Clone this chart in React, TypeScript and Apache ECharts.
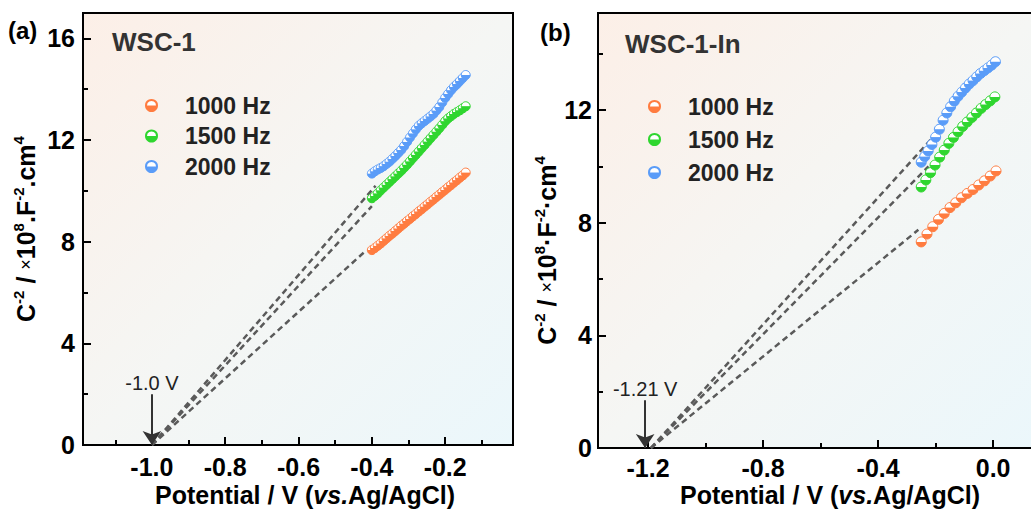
import React, { useEffect, useRef } from "react";
import * as echarts from "echarts";

const FONT = "'Liberation Sans', Arial, Helvetica, sans-serif";

// ---------- shared ----------
const seriesNames = ["1000 Hz", "1500 Hz", "2000 Hz"];
const seriesColors = ["#ff7c40", "#2fd62f", "#5a9cf8"];

// ---------- panel (a) WSC-1 ----------
const potentialA = [
  -0.4, -0.392, -0.384, -0.376, -0.368, -0.36, -0.352, -0.344, -0.336, -0.328, -0.32,
  -0.312, -0.304, -0.296, -0.288, -0.28, -0.272, -0.264, -0.256, -0.248, -0.24, -0.232,
  -0.224, -0.216, -0.208, -0.2, -0.192, -0.184, -0.176, -0.168, -0.16, -0.152, -0.144,
];
const wsc1_1000 = [
  7.67, 7.75, 7.84, 7.93, 8.03, 8.13, 8.23, 8.32, 8.42, 8.52, 8.62, 8.71, 8.81, 8.9,
  9.0, 9.09, 9.19, 9.28, 9.38, 9.47, 9.57, 9.66, 9.76, 9.85, 9.95, 10.04, 10.14, 10.23,
  10.33, 10.42, 10.52, 10.61, 10.72,
];
const wsc1_1500 = [
  9.71, 9.8, 9.9, 10.02, 10.13, 10.24, 10.35, 10.46, 10.57, 10.68, 10.79, 10.91, 11.03,
  11.16, 11.29, 11.42, 11.55, 11.68, 11.81, 11.94, 12.07, 12.2, 12.33, 12.46, 12.6,
  12.74, 12.85, 12.94, 13.03, 13.1, 13.17, 13.25, 13.33,
];
const wsc1_2000 = [
  10.68, 10.77, 10.84, 10.9, 10.97, 11.06, 11.15, 11.26, 11.37, 11.49, 11.61, 11.76,
  11.93, 12.1, 12.26, 12.42, 12.56, 12.66, 12.75, 12.84, 12.93, 13.03, 13.16, 13.3,
  13.48, 13.66, 13.81, 13.96, 14.09, 14.2, 14.32, 14.44, 14.56,
];
// Mott-Schottky extrapolation lines (a)
const fitA1000 = [[-1.0, 0], [-0.42, 7.6]];
const fitA1500 = [[-1.0, 0], [-0.4, 9.4]];
const fitA2000 = [[-1.0, 0], [-0.39, 10.2]];
const flatbandA = -1.0;
const flatbandLabelA = "-1.0 V";

// ---------- panel (b) WSC-1-In ----------
const potentialB1000 = [-0.25, -0.23, -0.21, -0.19, -0.17, -0.15, -0.13, -0.11, -0.09, -0.07, -0.05, -0.03, -0.01, 0.01];
const wscIn_1000 = [7.32, 7.6, 7.86, 8.12, 8.33, 8.54, 8.71, 8.89, 9.04, 9.18, 9.34, 9.49, 9.66, 9.84];
const potentialB1500 = [
  -0.25, -0.234, -0.218, -0.202, -0.186, -0.17, -0.154, -0.138, -0.122, -0.106, -0.09,
  -0.074, -0.058, -0.042, -0.026, -0.01, 0.006,
];
const wscIn_1500 = [
  9.27, 9.52, 9.78, 10.05, 10.33, 10.58, 10.82, 11.03, 11.23, 11.42, 11.58, 11.74, 11.9,
  12.06, 12.2, 12.33, 12.47,
];
const potentialB2000 = [
  -0.25, -0.238, -0.226, -0.213, -0.2, -0.187, -0.174, -0.161, -0.148, -0.135, -0.122,
  -0.109, -0.096, -0.083, -0.07, -0.057, -0.044, -0.031, -0.018, -0.005, 0.008,
];
const wscIn_2000 = [
  10.15, 10.35, 10.55, 10.78, 11.04, 11.32, 11.64, 11.9, 12.12, 12.32, 12.49, 12.64,
  12.79, 12.93, 13.05, 13.18, 13.3, 13.4, 13.5, 13.6, 13.72,
];
const fitB1000 = [[-1.19, 0], [-0.26, 7.75]];
const fitB1500 = [[-1.19, 0], [-0.225, 10.0]];
const fitB2000 = [[-1.19, 0], [-0.195, 11.2]];
const flatbandB = -1.21;
const flatbandLabelB = "-1.21 V";

// ---------- ticks ----------
const xTicksA = [-1.0, -0.8, -0.6, -0.4, -0.2];
const xMinorA = [-1.1, -0.9, -0.7, -0.5, -0.3, -0.1];
const xTicksB = [-1.2, -0.8, -0.4, 0.0];
const xMinorB = [-1.0, -0.6, -0.2];

const zip = (xs: number[], ys: number[]) => xs.map((x, i) => [x, ys[i]]);

const markerFill = (c: string) =>
  new echarts.graphic.LinearGradient(0, 0, 0, 1, [
    { offset: 0, color: "#ffffff" },
    { offset: 0.46, color: "#ffffff" },
    { offset: 0.54, color: c },
    { offset: 1, color: c },
  ]);

const plotBg = () =>
  new echarts.graphic.LinearGradient(0, 0, 1, 1, [
    { offset: 0, color: "#fcefe7" },
    { offset: 0.5, color: "#f5f6f4" },
    { offset: 1, color: "#ebf7fb" },
  ]);

const tickLabel = { fontSize: 25, fontWeight: "bold", color: "#000", fontFamily: FONT };

const yRich = {
  b: { fontSize: 25, fontWeight: "bold", color: "#000", fontFamily: FONT, lineHeight: 30 },
  s: { fontSize: 15, fontWeight: "bold", color: "#000", fontFamily: FONT, lineHeight: 15, verticalAlign: "top" },
  x: { fontSize: 18, fontWeight: "normal", color: "#000", fontFamily: FONT, lineHeight: 30 },
};
const xRich = {
  b: { fontSize: 25, fontWeight: "bold", color: "#000", fontFamily: FONT, lineHeight: 22 },
  i: { fontSize: 25, fontWeight: "bold", fontStyle: "italic", color: "#000", fontFamily: FONT, lineHeight: 22 },
};

const xMain = (gi: number, min: number, max: number, ticks: number[], namePad: number, gap: number, margin: number) => ({
  gridIndex: gi,
  type: "value",
  position: "bottom",
  min,
  max,
  axisLine: { show: true, onZero: false, lineStyle: { color: "#000", width: 2 } },
  axisTick: { show: true, inside: true, length: 8, customValues: ticks, lineStyle: { color: "#000", width: 2 } },
  axisLabel: { ...tickLabel, lineHeight: 20, margin, customValues: ticks, formatter: (v: number) => v.toFixed(1) },
  splitLine: { show: false },
  name: "{b|Potential / V (}{i|vs.}{b|Ag/AgCl)}",
  nameLocation: "middle",
  nameGap: gap,
  nameMoveOverlap: false,
  nameTextStyle: { rich: xRich, lineHeight: 22, padding: [0, 0, 0, namePad] },
});
const xMinor = (gi: number, min: number, max: number, ticks: number[]) => ({
  gridIndex: gi,
  type: "value",
  position: "bottom",
  min,
  max,
  axisLine: { show: false, onZero: false },
  axisTick: { show: true, inside: true, length: 5, customValues: ticks, lineStyle: { color: "#000", width: 2 } },
  axisLabel: { show: false },
  splitLine: { show: false },
});
const yMain = (gi: number, max: number, name: string, gap: number, pad: number[], margin: number) => ({
  gridIndex: gi,
  type: "value",
  position: "left",
  min: 0,
  max,
  interval: 4,
  axisLine: { show: true, onZero: false, lineStyle: { color: "#000", width: 2 } },
  axisTick: { show: true, inside: true, length: 8, lineStyle: { color: "#000", width: 2 } },
  minorTick: { show: true, splitNumber: 2, length: 5, lineStyle: { color: "#000", width: 2 } },
  axisLabel: { ...tickLabel, margin, showMaxLabel: false },
  splitLine: { show: false },
  name,
  nameLocation: "middle",
  nameRotate: 90,
  nameGap: gap,
  nameMoveOverlap: false,
  nameTextStyle: { rich: yRich, padding: pad },
});

const scatter = (name: string, color: string, xi: number, yi: number, data: number[][], size: number) => ({
  type: "scatter",
  name,
  xAxisIndex: xi,
  yAxisIndex: yi,
  data,
  symbol: "circle",
  symbolSize: size,
  itemStyle: { color: markerFill(color), borderColor: color, borderWidth: 1, opacity: 1 },
  z: 4,
});
const fitLine = (xi: number, yi: number, data: number[][], extra: any = {}) => ({
  type: "line",
  xAxisIndex: xi,
  yAxisIndex: yi,
  data,
  symbol: "none",
  silent: true,
  lineStyle: { color: "#5a5a5a", width: 2.5, type: [6, 4] },
  z: 2,
  ...extra,
});
const arrowMark = (xv: number, yTop: number, label: string) => ({
  markLine: {
    silent: true,
    symbol: ["none", "arrow"],
    symbolSize: 14,
    lineStyle: { color: "#333", width: 2, type: "solid" },
    label: { show: true, position: "start", distance: 1, formatter: label, fontSize: 20, color: "#222", fontFamily: FONT },
    data: [[{ coord: [xv, yTop] }, { coord: [xv, 0] }]],
  },
});

const legendCfg = (left: number, top: number, gap: number) => ({
  left,
  top,
  orient: "vertical",
  padding: 0,
  itemGap: gap,
  itemWidth: 11,
  itemHeight: 11,
  icon: "circle",
  selectedMode: false,
  data: seriesNames,
  textStyle: { fontSize: 23, fontWeight: "bold", color: "#222", fontFamily: FONT, lineHeight: 23, padding: [0, 0, 0, 23] },
});

export default function App() {
  const ref = useRef<HTMLDivElement>(null);
  useEffect(() => {
    document.body.style.margin = "0";
    if (!ref.current) return;
    const chart = echarts.init(ref.current, undefined, { renderer: "svg" });
    const xA = [-1.188, -0.015];
    const xB = [-1.374, 0.156];
    const option: any = {
      animation: false,
      backgroundColor: "#ffffff",
      grid: [
        { left: 83, top: 13, width: 430, height: 432, show: true, outerBoundsMode: "none", containLabel: false, backgroundColor: plotBg(), borderColor: "#000", borderWidth: 2 },
        { left: 598, top: 13, width: 440, height: 435, show: true, outerBoundsMode: "none", containLabel: false, backgroundColor: plotBg(), borderColor: "#000", borderWidth: 2 },
      ],
      xAxis: [
        xMain(0, xA[0], xA[1], xTicksA, 14, 39, 12),
        xMinor(0, xA[0], xA[1], xMinorA),
        xMain(1, xB[0], xB[1], xTicksB, 24, 36, 10),
        xMinor(1, xB[0], xB[1], xMinorB),
      ],
      yAxis: [
        yMain(0, 17, "{b|C}{s|-2}{b| / }{x|×}{b|10}{s|8}{b|.F}{s|-2}{b|.cm}{s|4}", 42, [0, 0, 0, 0], 8),
        yMain(1, 15.45, "{b|C}{s|-2}{b| / }{x|×}{b|10}{s|8}{b|·F}{s|-2}{b|·cm}{s|4}", 36, [0, 40, 0, 0], 6),
      ],
      legend: [legendCfg(145, 94, 7.5), legendCfg(648, 95, 10)],
      graphic: [
        { type: "text", left: 8, top: 18, style: { text: "(a)", font: `bold 24px ${FONT}`, fill: "#000" } },
        { type: "text", left: 540, top: 20, style: { text: "(b)", font: `bold 24px ${FONT}`, fill: "#000" } },
        { type: "text", left: 112, top: 29, style: { text: "WSC-1", font: `bold 26px ${FONT}`, fill: "#333" } },
        { type: "text", left: 625, top: 31, style: { text: "WSC-1-In", font: `bold 26px ${FONT}`, fill: "#333" } },
      ],
      series: [
        fitLine(0, 0, fitA1000, arrowMark(flatbandA, 2.0, flatbandLabelA)),
        fitLine(0, 0, fitA1500),
        fitLine(0, 0, fitA2000),
        scatter(seriesNames[0], seriesColors[0], 0, 0, zip(potentialA, wsc1_1000), 9),
        scatter(seriesNames[1], seriesColors[1], 0, 0, zip(potentialA, wsc1_1500), 9),
        scatter(seriesNames[2], seriesColors[2], 0, 0, zip(potentialA, wsc1_2000), 9),
        fitLine(2, 1, fitB1000, arrowMark(flatbandB, 1.7, flatbandLabelB)),
        fitLine(2, 1, fitB1500),
        fitLine(2, 1, fitB2000),
        scatter(seriesNames[0], seriesColors[0], 2, 1, zip(potentialB1000, wscIn_1000), 10),
        scatter(seriesNames[1], seriesColors[1], 2, 1, zip(potentialB1500, wscIn_1500), 10),
        scatter(seriesNames[2], seriesColors[2], 2, 1, zip(potentialB2000, wscIn_2000), 10),
      ],
    };
    chart.setOption(option);
    return () => chart.dispose();
  }, []);
  return <div ref={ref} style={{ width: 1031, height: 510 }} />;
}
